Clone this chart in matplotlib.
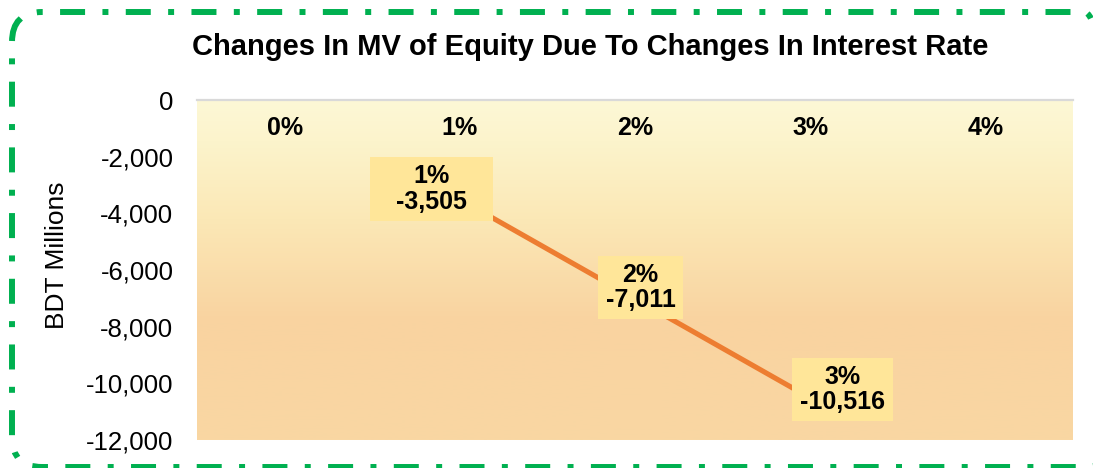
import numpy as np
import matplotlib
matplotlib.use("Agg")
import matplotlib.pyplot as plt
from matplotlib.colors import LinearSegmentedColormap
from matplotlib.patches import FancyBboxPatch
from matplotlib.path import Path
from matplotlib.ticker import FuncFormatter

plt.rcParams['font.family'] = ['Liberation Sans', 'DejaVu Sans']
plt.rcParams['lines.scale_dashes'] = False

# ---- data ----
categories = ['0%', '1%', '2%', '3%', '4%']
mv_change = [np.nan, -3505, -7011, -10516, np.nan]
point_labels = ['', '1%\n-3,505', '2%\n-7,011', '3%\n-10,516', '']
y_ticks = [0, -2000, -4000, -6000, -8000, -10000, -12000]
title = 'Changes In MV of Equity Due To Changes In Interest Rate'
y_title = 'BDT Millions'

# label placement (offset in points, horizontal padding in px)
label_offsets = [(0, 0), (-20.5, 7.5), (4, 8), (23, 6), (0, 0)]
label_hpad = [8, 26, 8, 8, 8]

W, H = 1093, 468
fig = plt.figure(figsize=(W / 100, H / 100), dpi=100)
fig.patch.set_facecolor('white')
ax = fig.add_axes([197 / W, 1 - 440 / H, (1073 - 197) / W, 340 / H])

x = np.arange(len(categories))
ax.set_xlim(-0.5, len(categories) - 0.5)
ax.set_ylim(-12000, 0)

# gradient background
cmap = LinearSegmentedColormap.from_list('bg', [
    (0.0, (253/255, 248/255, 214/255)),
    (0.12, (252/255, 244/255, 204/255)),
    (0.35, (251/255, 232/255, 182/255)),
    (0.65, (249/255, 211/255, 160/255)),
    (1.0, (249/255, 215/255, 163/255)),
])
grad = np.linspace(0, 1, 256).reshape(-1, 1)
ax.imshow(grad, cmap=cmap, aspect='auto', extent=(-0.5, len(categories) - 0.5, -12000, 0),
          origin='upper', zorder=0)

ax.plot(x, mv_change, color='#ED7D31', lw=3.7, solid_capstyle='butt', zorder=2)

# y axis
ax.set_yticks(y_ticks)
ax.yaxis.set_major_formatter(FuncFormatter(lambda v, p: f"{int(v):,}"))
ax.tick_params(axis='y', length=0, pad=17, labelsize=18.5, labelcolor='black')
ax.set_xticks([])
for s in ['left', 'right', 'bottom']:
    ax.spines[s].set_visible(False)
ax.spines['top'].set_color('#D9D9D9')
ax.spines['top'].set_linewidth(1.6)
fig.text(57 / W, 1 - 255 / H, y_title, rotation=90, ha='center', va='center', fontsize=19)

# category labels beneath the zero axis
for i, c in enumerate(categories):
    ax.annotate(c, xy=(i, 0), xytext=(0, -20), textcoords='offset points',
                ha='center', va='center', fontsize=18, fontweight='bold', zorder=3)


def make_box(hpad, vpad):
    def box(x0, y0, width, height, mutation_size):
        xa, ya = x0 - hpad, y0 - vpad
        xb, yb = x0 + width + hpad, y0 + height + vpad
        return Path([(xa, ya), (xb, ya), (xb, yb), (xa, yb), (xa, ya)],
                    [Path.MOVETO, Path.LINETO, Path.LINETO, Path.LINETO, Path.CLOSEPOLY])
    return box


for i, (v, lab) in enumerate(zip(mv_change, point_labels)):
    if np.isnan(v):
        continue
    dx, dy = label_offsets[i]
    ax.annotate(lab, xy=(i, v), xytext=(dx, dy), textcoords='offset points',
                ha='center', va='center', multialignment='center',
                fontsize=18, fontweight='bold', linespacing=1.08, zorder=4,
                bbox=dict(boxstyle=make_box(label_hpad[i], 7), facecolor='#FFE699',
                          edgecolor='none'))

# title
fig.text(590 / W, 1 - 55 / H, title, ha='center', va='baseline',
         fontsize=21, fontweight='bold')

# green dash-dot rounded border (right side runs past the image edge)
border = FancyBboxPatch((12 / 100, 1 / 100), (1114 - 12) / 100, (456 - 1) / 100,
                        boxstyle='round,pad=0,rounding_size=0.3',
                        transform=fig.dpi_scale_trans, facecolor='none',
                        edgecolor='#00B050', linewidth=4.3,
                        linestyle=(0, (4.3, 12.5, 18, 12.5)), capstyle='butt',
                        clip_on=False)
fig.patches.append(border)

fig.savefig('out.png', dpi=100)
